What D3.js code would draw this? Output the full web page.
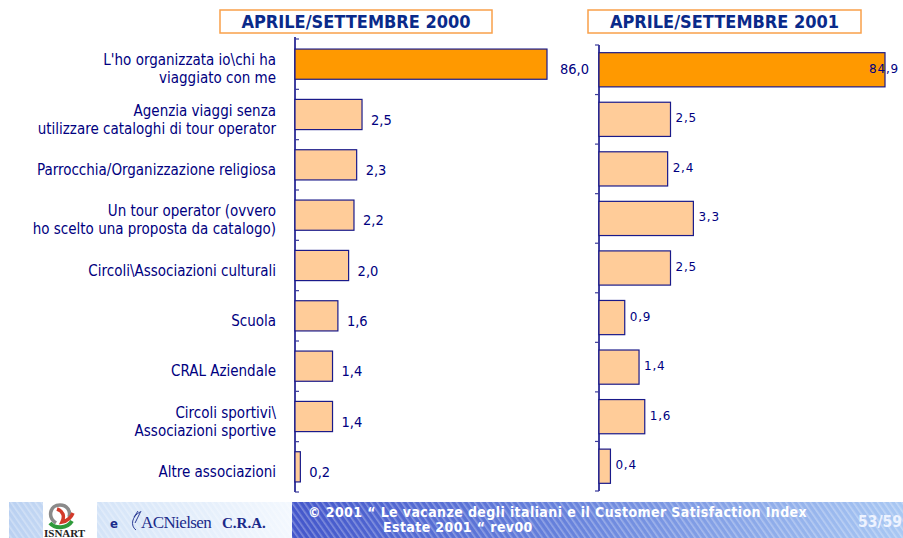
<!DOCTYPE html>
<html><head><meta charset="utf-8">
<script src="https://cdn.jsdelivr.net/npm/d3@7"></script>
<style>
html,body{margin:0;padding:0;background:#fff;}
svg{display:block;}
</style></head>
<body>
<svg id="chart" width="903" height="538"></svg>
<script>
// ---------- DATA ----------
const categories = [
  ["L'ho organizzata io\\chi ha", "viaggiato con me"],
  ["Agenzia viaggi senza", "utilizzare cataloghi di tour operator"],
  ["Parrocchia/Organizzazione religiosa"],
  ["Un tour operator (ovvero", "ho scelto una proposta da catalogo)"],
  ["Circoli\\Associazioni culturali"],
  ["Scuola"],
  ["CRAL Aziendale"],
  ["Circoli sportivi\\", "Associazioni sportive"],
  ["Altre associazioni"]
];
const values2000 = [86.0, 2.5, 2.3, 2.2, 2.0, 1.6, 1.4, 1.4, 0.2];
const values2001 = [84.9, 2.5, 2.4, 3.3, 2.5, 0.9, 1.4, 1.6, 0.4];
const panelTitles = ["APRILE/SETTEMBRE 2000", "APRILE/SETTEMBRE 2001"];
const footerLine1 = "\u00A9 2001 \u201C Le vacanze degli italiani e il Customer Satisfaction Index";
const footerLine2 = "Estate 2001 \u201C rev00";
const pageLabel = "53/59";

// ---------- STYLE ----------
const NAVY = "#000080";
const FONT = "'DejaVu Sans Condensed','DejaVu Sans',sans-serif";
const fmt = v => d3.format(".1f")(v).replace(".", ",");

const svg = d3.select("#chart");
const defs = svg.append("defs");

// ---------- PANELS ----------
const panels = [
  {values: values2000, title: panelTitles[0], x0: 295, x1: 547, dmax: 9.4,
   y0: 39, y1: 492, pad: 0.4, box: [220, 10, 272, 23],
   labelFont: 14.5, labelFamily: FONT, labelGap: 9, labelDy: 5, tickDir: 1, axisTop: 37},
  {values: values2001, title: panelTitles[1], x0: 599, x1: 885, dmax: 10,
   y0: 45, y1: 491, pad: 0.31, box: [588, 10, 273, 23],
   labelFont: 12, labelFamily: "'DejaVu Sans',sans-serif", labelGap: 5, labelDy: -1, tickDir: -1, axisTop: 45}
];

panels.forEach((p, pi) => {
  const g = svg.append("g");
  const x = d3.scaleLinear().domain([0, p.dmax]).range([p.x0, p.x1]).clamp(true);
  const y = d3.scaleBand().domain(d3.range(categories.length))
    .range([p.y0, p.y1]).paddingInner(p.pad).paddingOuter(p.pad / 2);

  // title box
  g.append("rect").attr("x", p.box[0]).attr("y", p.box[1])
    .attr("width", p.box[2]).attr("height", p.box[3])
    .attr("fill", "#fff").attr("stroke", "#F9A04A").attr("stroke-width", 1.5);
  g.append("text").attr("x", p.box[0] + p.box[2] / 2).attr("y", p.box[1] + 17.5)
    .attr("text-anchor", "middle").attr("fill", "#0a2a8a")
    .attr("font-family", FONT).attr("font-weight", "bold").attr("font-size", 18)
    .text(p.title);

  // axis line + ticks at band boundaries
  const bounds = d3.range(categories.length + 1).map(i => p.y0 + i * y.step());
  g.append("line").attr("x1", p.x0).attr("x2", p.x0)
    .attr("y1", p.axisTop).attr("y2", p.y1)
    .attr("stroke", NAVY).attr("stroke-width", 1.5);
  g.selectAll(".tick").data(bounds).join("line")
    .attr("x1", p.x0).attr("x2", p.x0 + 4 * p.tickDir)
    .attr("y1", d => d).attr("y2", d => d)
    .attr("stroke", "#3a3a9a").attr("stroke-width", 1.2);

  // bars
  g.selectAll(".bar").data(p.values).join("rect")
    .attr("x", p.x0).attr("y", (d, i) => y(i))
    .attr("width", d => x(d) - p.x0).attr("height", y.bandwidth())
    .attr("fill", (d, i) => i === 0 ? "#FF9900" : "#FFCC99")
    .attr("stroke", "#1a1a8a").attr("stroke-width", 1.2);

  // value labels
  g.selectAll(".val").data(p.values).join("text")
    .attr("font-family", p.labelFamily).attr("font-size", p.labelFont)
    .attr("letter-spacing", pi === 1 ? 0.8 : 0)
    .attr("fill", NAVY).attr("dominant-baseline", "central")
    .attr("y", (d, i) => y(i) + y.bandwidth() / 2 + p.labelDy)
    .text(d => fmt(d))
    .each(function (d) {
      const w = this.getComputedTextLength();
      const xx = Math.min(x(d) + p.labelGap + (x(d) >= p.x1 ? 4 : 0), 903 - w - 4);
      d3.select(this).attr("x", xx);
    });

  // category labels (left panel only)
  if (pi === 0) {
    const cl = g.selectAll(".cat").data(categories).join("text")
      .attr("text-anchor", "end").attr("fill", NAVY)
      .attr("font-family", FONT).attr("font-size", 15)
      .attr("transform", (d, i) => `translate(276,${y(i) + y.bandwidth() / 2 + 5})`);
    cl.each(function (lines) {
      const t = d3.select(this);
      const lh = 18;
      lines.forEach((ln, k) => {
        t.append("tspan").attr("x", 0)
          .attr("y", (k - (lines.length - 1) / 2) * lh)
          .attr("dominant-baseline", "central").text(ln);
      });
    });
  }
});

// ---------- FOOTER ----------
const gl = defs.append("linearGradient").attr("id", "gLeft");
[["0", "#b9d0f1"], ["0.35", "#d6e5f8"], ["1", "#f3f8fe"]].forEach(s =>
  gl.append("stop").attr("offset", s[0]).attr("stop-color", s[1]));
const gr = defs.append("linearGradient").attr("id", "gRight");
[["0", "#4457cb"], ["0.45", "#6782dc"], ["1", "#a9c8f3"]].forEach(s =>
  gr.append("stop").attr("offset", s[0]).attr("stop-color", s[1]));
const pat = defs.append("pattern").attr("id", "stripes").attr("patternUnits", "userSpaceOnUse")
  .attr("width", 5).attr("height", 5).attr("patternTransform", "rotate(-35)");
pat.append("rect").attr("width", 1.6).attr("height", 5).attr("fill", "#fff").attr("opacity", 0.3);

const fg = svg.append("g");
fg.append("rect").attr("x", 9).attr("y", 502).attr("width", 283).attr("height", 36).attr("fill", "url(#gLeft)");
fg.append("rect").attr("x", 9).attr("y", 502).attr("width", 283).attr("height", 36).attr("fill", "url(#stripes)");
fg.append("rect").attr("x", 292).attr("y", 502).attr("width", 611).attr("height", 36).attr("fill", "url(#gRight)");
fg.append("rect").attr("x", 292).attr("y", 502).attr("width", 611).attr("height", 36).attr("fill", "url(#stripes)");

// ISNART logo
fg.append("rect").attr("x", 43).attr("y", 502).attr("width", 54).attr("height", 36).attr("fill", "#fff");
fg.append("path").attr("d", "M56,523 C47,517 50,505 60,505 C67,505 71,511 69,517")
  .attr("fill", "none").attr("stroke", "#8a8a8a").attr("stroke-width", 3.5);
fg.append("path").attr("d", "M50,523 C55,529 67,529 72,521")
  .attr("fill", "none").attr("stroke", "#2e9a3a").attr("stroke-width", 4);
fg.append("path").attr("d", "M57,509 C63,511 65,516 62,522 C67,521 71,518 73,513")
  .attr("fill", "none").attr("stroke", "#d23a2a").attr("stroke-width", 3.5);
fg.append("text").attr("x", 44).attr("y", 537).attr("font-family", "'Liberation Serif',serif")
  .attr("font-weight", "bold").attr("font-size", 11).attr("fill", "#222").text("ISNART");
fg.append("text").attr("x", 110).attr("y", 528).attr("font-family", FONT)
  .attr("font-weight", "bold").attr("font-size", 13).attr("fill", "#1a2a8a").text("e");
fg.append("path").attr("d", "M140,512 C132,516 130,526 136,530 M141,511 l-6,12 M138,511 l-4,6")
  .attr("fill", "none").attr("stroke", "#1a2a8a").attr("stroke-width", 0.9);
fg.append("text").attr("x", 141).attr("y", 528).attr("font-family", "'Liberation Serif',serif")
  .attr("font-size", 17).attr("fill", "#1a2a8a").attr("letter-spacing", -0.6).text("ACNielsen");
fg.append("text").attr("x", 222).attr("y", 528).attr("font-family", "'Liberation Serif',serif")
  .attr("font-weight", "bold").attr("font-size", 15).attr("fill", "#1a2a8a").text("C.R.A.");

fg.append("text").attr("x", 308).attr("y", 517).attr("font-family", FONT)
  .attr("font-weight", "bold").attr("font-size", 14).attr("letter-spacing", 0.4)
  .attr("fill", "#fff").text(footerLine1);
fg.append("text").attr("x", 383).attr("y", 532).attr("font-family", FONT)
  .attr("font-weight", "bold").attr("font-size", 14).attr("letter-spacing", 0.4)
  .attr("fill", "#fff").text(footerLine2);
fg.append("text").attr("x", 858).attr("y", 527).attr("font-family", FONT)
  .attr("font-weight", "bold").attr("font-size", 15.5).attr("fill", "#eef3ff").text(pageLabel);
</script>
</body></html>
